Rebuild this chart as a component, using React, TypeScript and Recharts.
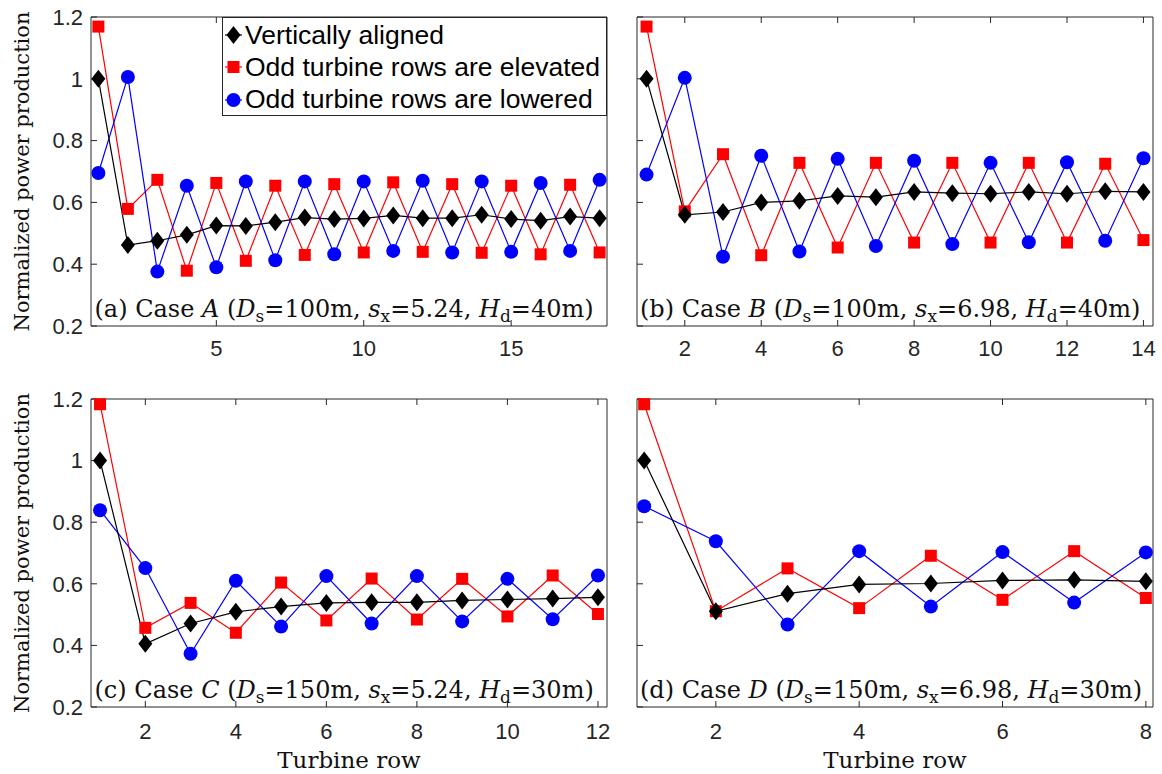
import React from 'react'
import { LineChart, Line, XAxis, YAxis, Legend } from 'recharts'

// turbine rows per case
const rowsA = [1, 2, 3, 4, 5, 6, 7, 8, 9, 10, 11, 12, 13, 14, 15, 16, 17, 18]
const rowsB = [1, 2, 3, 4, 5, 6, 7, 8, 9, 10, 11, 12, 13, 14]
const rowsC = [1, 2, 3, 4, 5, 6, 7, 8, 9, 10, 11, 12]
const rowsD = [1, 2, 3, 4, 5, 6, 7, 8]

// Case A
const alignedA = [1.0, 0.462, 0.476, 0.495, 0.525, 0.524, 0.536, 0.551, 0.546, 0.548, 0.558, 0.549, 0.549, 0.56, 0.546, 0.541, 0.554, 0.549]
const elevatedA = [1.169, 0.579, 0.673, 0.379, 0.663, 0.411, 0.654, 0.43, 0.659, 0.438, 0.665, 0.44, 0.659, 0.437, 0.654, 0.432, 0.657, 0.438]
const loweredA = [0.695, 1.006, 0.376, 0.654, 0.39, 0.668, 0.413, 0.668, 0.432, 0.668, 0.443, 0.67, 0.438, 0.668, 0.44, 0.663, 0.443, 0.673]

// Case B
const alignedB = [1.0, 0.56, 0.569, 0.6, 0.605, 0.621, 0.617, 0.634, 0.63, 0.628, 0.634, 0.628, 0.636, 0.634]
const elevatedB = [1.169, 0.571, 0.756, 0.429, 0.728, 0.454, 0.728, 0.47, 0.728, 0.47, 0.728, 0.47, 0.725, 0.478]
const loweredB = [0.69, 1.003, 0.424, 0.751, 0.441, 0.741, 0.459, 0.735, 0.465, 0.728, 0.471, 0.73, 0.476, 0.743]

// Case C
const alignedC = [1.0, 0.405, 0.471, 0.509, 0.526, 0.538, 0.54, 0.54, 0.546, 0.549, 0.552, 0.556]
const elevatedC = [1.183, 0.457, 0.538, 0.441, 0.604, 0.481, 0.617, 0.484, 0.616, 0.494, 0.627, 0.502]
const loweredC = [0.839, 0.651, 0.373, 0.61, 0.461, 0.625, 0.471, 0.625, 0.478, 0.616, 0.485, 0.627]

// Case D
const alignedD = [1.0, 0.511, 0.568, 0.598, 0.601, 0.611, 0.613, 0.608]
const elevatedD = [1.183, 0.511, 0.65, 0.521, 0.691, 0.548, 0.706, 0.554]
const loweredD = [0.852, 0.738, 0.468, 0.706, 0.526, 0.703, 0.539, 0.702]

const xTicksA = [5, 10, 15]
const xTicksB = [2, 4, 6, 8, 10, 12, 14]
const xTicksC = [2, 4, 6, 8, 10, 12]
const xTicksD = [2, 4, 6, 8]
const yTicks = [0.2, 0.4, 0.6, 0.8, 1, 1.2]

const seriesNames = ['Vertically aligned', 'Odd turbine rows are elevated', 'Odd turbine rows are lowered']

const AXIS = '#262626'
const SANS = '"Liberation Sans", Arial, Helvetica, sans-serif'
const SERIF = '"DejaVu Serif", serif'
const tickStyle = { fill: AXIS, fontSize: 22, fontFamily: SANS }
const blank = () => ''

const diamond = (cx: number, cy: number) =>
  `M${cx},${cy - 9}L${cx + 7},${cy}L${cx},${cy + 9}L${cx - 7},${cy}Z`

const DiamondDot = (p: any) =>
  p.cx == null ? null : <path key={`d${p.index}`} d={diamond(p.cx, p.cy)} fill="#000" />
const SquareDot = (p: any) =>
  p.cx == null ? null : <rect key={`s${p.index}`} x={p.cx - 6} y={p.cy - 6} width={12} height={12} fill="#ff0000" />
const CircleDot = (p: any) =>
  p.cx == null ? null : <circle key={`c${p.index}`} cx={p.cx} cy={p.cy} r={7} fill="#0000ff" />

const renderYLabel = (props: any) => {
  const vb = props.viewBox
  const cx = 22
  const cy = vb.y + vb.height / 2
  return (
    <text x={cx} y={cy} transform={`rotate(-90 ${cx} ${cy})`} textAnchor="middle" dominantBaseline="central"
      fontFamily={SERIF} fontSize={21} fill="#111">
      Normalized power production
    </text>
  )
}

const renderXLabel = (props: any) => {
  const vb = props.viewBox
  return (
    <text x={vb.x + vb.width / 2} y={vb.y + vb.height - 1} textAnchor="middle" fontFamily={SERIF} fontSize={23} fill="#111">
      Turbine row
    </text>
  )
}

const legendMarks = [
  (x: number, y: number) => <path d={diamond(x, y)} fill="#000" />,
  (x: number, y: number) => <rect x={x - 6} y={y - 6} width={12} height={12} fill="#ff0000" />,
  (x: number, y: number) => <circle cx={x} cy={y} r={7} fill="#0000ff" />,
]
const legendColors = ['#000', '#ff0000', '#0000ff']

const renderLegend = () => (
  <div style={{ width: 385, height: 99, boxSizing: 'border-box', border: `1px solid ${AXIS}`, background: '#fff', paddingTop: 1 }}>
    {seriesNames.map((name, i) => (
      <div key={name} style={{ display: 'flex', alignItems: 'center', height: 32.3 }}>
        <svg width={22} height={22} style={{ flex: 'none' }}>
          <line x1={2} y1={11} x2={19} y2={11} stroke={legendColors[i]} strokeWidth={1.2} />
          {legendMarks[i](10.5, 11)}
        </svg>
        <span style={{ fontFamily: SANS, fontSize: 26.5, color: '#000', lineHeight: 1, whiteSpace: 'nowrap' }}>{name}</span>
      </div>
    ))}
  </div>
)

type PanelProps = {
  left: number
  top: number
  width: number
  height: number
  margin: { top: number; right: number; bottom: number; left: number }
  rows: number[]
  aligned: number[]
  elevated: number[]
  lowered: number[]
  xDomain: [number, number]
  xTicks: number[]
  yAxisWidth: number
  xAxisHeight: number
  xTickMargin: number
  first: boolean
  bottomRow: boolean
  legend?: boolean
}

function Panel(p: PanelProps) {
  const data = p.rows.map((row, i) => ({
    row,
    aligned: p.aligned[i],
    elevated: p.elevated[i],
    lowered: p.lowered[i],
  }))
  const axisLine = { stroke: AXIS, strokeWidth: 1 }
  const tickLine = { stroke: AXIS, strokeWidth: 1 }
  return (
    <div style={{ position: 'absolute', left: p.left, top: p.top }}>
      <LineChart width={p.width} height={p.height} data={data} margin={p.margin}>
        <XAxis
          type="number" dataKey="row" domain={p.xDomain} ticks={p.xTicks} interval={0}
          height={p.xAxisHeight} tickSize={-6} tickMargin={p.xTickMargin}
          axisLine={axisLine} tickLine={tickLine} tick={tickStyle}
          label={p.bottomRow ? renderXLabel : undefined}
        />
        <XAxis
          xAxisId="top" orientation="top" type="number" dataKey="row" domain={p.xDomain} ticks={p.xTicks}
          interval={0} height={1} tickSize={-6} tickFormatter={blank} axisLine={axisLine} tickLine={tickLine}
        />
        <YAxis
          type="number" domain={[0.2, 1.2]} ticks={yTicks} interval={0} width={p.yAxisWidth}
          tickSize={-6} tickMargin={14} axisLine={axisLine} tickLine={tickLine} tick={tickStyle}
          tickFormatter={p.first ? (v: number) => String(v) : blank}
          label={p.first ? renderYLabel : undefined}
        />
        <YAxis
          yAxisId="right" orientation="right" type="number" domain={[0.2, 1.2]} ticks={yTicks}
          interval={0} width={1} tickSize={-6} tickFormatter={blank} axisLine={axisLine} tickLine={tickLine}
        />
        <Line dataKey="elevated" stroke="#ff0000" strokeWidth={1.2} dot={SquareDot} activeDot={false} isAnimationActive={false} />
        <Line dataKey="lowered" stroke="#0000ff" strokeWidth={1.2} dot={CircleDot} activeDot={false} isAnimationActive={false} />
        <Line dataKey="aligned" stroke="#000000" strokeWidth={1.2} dot={DiamondDot} activeDot={false} isAnimationActive={false} />
        {p.legend && (
          <Legend
            layout="vertical" align="center" verticalAlign="middle" content={renderLegend}
            wrapperStyle={{ left: 222, top: 17, width: 385, height: 99 }}
          />
        )}
      </LineChart>
    </div>
  )
}

function Note({ x, y, tag, letter, ds, sx, hd }: { x: number; y: number; tag: string; letter: string; ds: string; sx: string; hd: string }) {
  return (
    <text x={x} y={y} fontFamily={SERIF} fontSize={24} fill="#111">
      {`(${tag}) Case `}
      <tspan fontStyle="italic">{letter}</tspan>
      {' ('}
      <tspan fontStyle="italic">D</tspan>
      <tspan fontSize={17} dy={5}>s</tspan>
      <tspan dy={-5}>{`=${ds}, `}</tspan>
      <tspan fontStyle="italic">s</tspan>
      <tspan fontSize={17} dy={5}>x</tspan>
      <tspan dy={-5}>{`=${sx}, `}</tspan>
      <tspan fontStyle="italic">H</tspan>
      <tspan fontSize={17} dy={5}>d</tspan>
      <tspan dy={-5}>{`=${hd})`}</tspan>
    </text>
  )
}

export default function App() {
  const topMargin = { top: 16, right: 12, bottom: 4, left: 0 }
  const topMarginR = { top: 16, right: 8, bottom: 4, left: 0 }
  const botMargin = { top: 18, right: 12, bottom: 5, left: 0 }
  const botMarginR = { top: 18, right: 8, bottom: 5, left: 0 }
  return (
    <div style={{ position: 'absolute', left: 0, top: 0, width: 1162, height: 774, background: '#fff' }}>
      <Panel left={0} top={0} width={620} height={360} margin={topMargin}
        rows={rowsA} aligned={alignedA} elevated={elevatedA} lowered={loweredA}
        xDomain={[0.75, 18.25]} xTicks={xTicksA} yAxisWidth={91} xAxisHeight={30} xTickMargin={20}
        first bottomRow={false} legend />
      <Panel left={620} top={0} width={542} height={360} margin={topMarginR}
        rows={rowsB} aligned={alignedB} elevated={elevatedB} lowered={loweredB}
        xDomain={[0.75, 14.25]} xTicks={xTicksB} yAxisWidth={17} xAxisHeight={30} xTickMargin={20}
        first={false} bottomRow={false} />
      <Panel left={0} top={380} width={620} height={394} margin={botMargin}
        rows={rowsC} aligned={alignedC} elevated={elevatedC} lowered={loweredC}
        xDomain={[0.8, 12.2]} xTicks={xTicksC} yAxisWidth={91} xAxisHeight={62} xTickMargin={22}
        first bottomRow />
      <Panel left={620} top={380} width={542} height={394} margin={botMarginR}
        rows={rowsD} aligned={alignedD} elevated={elevatedD} lowered={loweredD}
        xDomain={[0.9, 8.1]} xTicks={xTicksD} yAxisWidth={17} xAxisHeight={62} xTickMargin={22}
        first={false} bottomRow />
      <svg width={1162} height={774} style={{ position: 'absolute', left: 0, top: 0, pointerEvents: 'none' }}>
        <Note x={94.5} y={317} tag="a" letter="A" ds="100m" sx="5.24" hd="40m" />
        <Note x={640} y={317} tag="b" letter="B" ds="100m" sx="6.98" hd="40m" />
        <Note x={94.5} y={698} tag="c" letter="C" ds="150m" sx="5.24" hd="30m" />
        <Note x={640} y={698} tag="d" letter="D" ds="150m" sx="6.98" hd="30m" />
      </svg>
    </div>
  )
}
